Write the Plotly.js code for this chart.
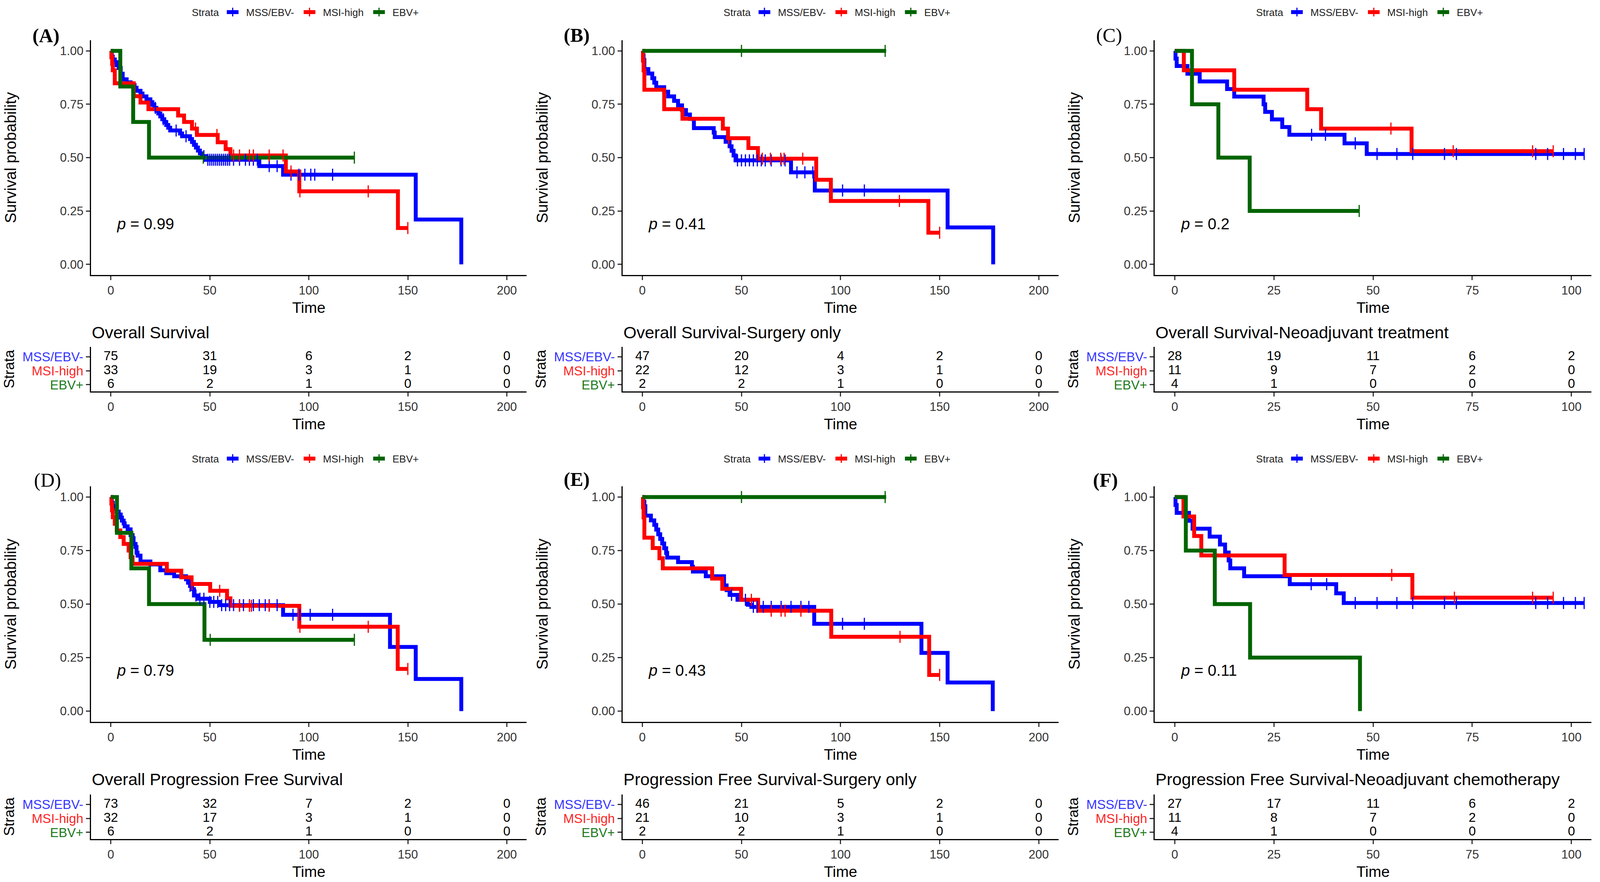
<!DOCTYPE html>
<html><head><meta charset="utf-8">
<script src="https://cdn.plot.ly/plotly-3.0.1.min.js"></script>
<style>html,body{margin:0;padding:0;background:#fff;overflow:hidden;} #chart{width:100vw;height:100vh;}</style>
</head><body><div id="chart"></div>
<script>
// ---------- DATA ----------
const strataNames = ['MSS/EBV-', 'MSI-high', 'EBV+'];
const pValues = ['0.99', '0.41', '0.2', '0.79', '0.43', '0.11'];
const panelLabels = ['(A)', '(B)', '(C)', '(D)', '(E)', '(F)'];
const tableTitles = ['Overall Survival', 'Overall Survival-Surgery only', 'Overall Survival-Neoadjuvant treatment',
  'Overall Progression Free Survival', 'Progression Free Survival-Surgery only', 'Progression Free Survival-Neoadjuvant chemotherapy'];
const timeBreaksLong = [0, 50, 100, 150, 200];
const timeBreaksShort = [0, 25, 50, 75, 100];

// (A) Overall survival
const A_mss_t = [0, 0.5, 1, 2, 3, 4, 5, 6, 8, 10, 12, 13, 15, 16, 18, 20, 21, 22, 23, 24, 25, 26, 27, 28, 29, 30, 35, 36, 40, 41, 42, 43, 44, 45, 46, 48, 75, 87, 154, 177];
const A_mss_s = [1, 0.973, 0.96, 0.947, 0.933, 0.92, 0.893, 0.867, 0.853, 0.84, 0.827, 0.813, 0.80, 0.787, 0.773, 0.76, 0.747, 0.733, 0.72, 0.707, 0.693, 0.68, 0.667, 0.653, 0.64, 0.627, 0.613, 0.60, 0.587, 0.573, 0.56, 0.547, 0.533, 0.52, 0.507, 0.49, 0.46, 0.42, 0.21, 0];
const A_mss_end = 177;
const A_mss_c = [22.5, 26.5, 33, 38, 47, 49, 50, 51, 52, 53, 54, 55, 56, 57, 58, 59, 60, 62, 65, 68, 70, 72, 74, 80, 84, 91, 95, 98, 101, 103, 112];
const A_msi_t = [0, 0.3, 0.7, 1, 2, 11.6, 15, 19, 34, 37, 41, 43.5, 54, 58, 60.4, 88.4, 95.2, 145];
const A_msi_s = [1, 0.97, 0.939, 0.909, 0.848, 0.788, 0.758, 0.727, 0.697, 0.667, 0.636, 0.606, 0.572, 0.54, 0.51, 0.435, 0.342, 0.17];
const A_msi_end = 150;
const A_msi_c = [42.8, 53.6, 62, 65, 70, 72, 80, 87, 91, 95.5, 130, 150];
const A_ebv_t = [0, 4.8, 11.3, 19.3];
const A_ebv_s = [1, 0.833, 0.667, 0.5];
const A_ebv_end = 123;
const A_ebv_c = [46.7, 123];
const A_risk_mss = [75, 31, 6, 2, 0];
const A_risk_msi = [33, 19, 3, 1, 0];
const A_risk_ebv = [6, 2, 1, 0, 0];

// (B) Overall survival - surgery only
const B_mss_t = [0, 0.3, 0.6, 1, 3, 5, 6, 7, 11, 13, 16, 18, 20, 22, 24, 26, 36, 36.5, 42, 44, 45, 46, 47, 75, 87, 154, 177];
const B_mss_s = [1, 0.979, 0.957, 0.915, 0.894, 0.872, 0.851, 0.83, 0.809, 0.787, 0.766, 0.745, 0.723, 0.702, 0.681, 0.638, 0.617, 0.596, 0.574, 0.553, 0.532, 0.51, 0.487, 0.431, 0.346, 0.173, 0];
const B_mss_end = 177;
const B_mss_c = [48, 50, 52, 54, 56, 58, 60, 62, 65, 70, 72, 78, 82, 86, 101, 112];
const B_msi_t = [0, 0.3, 0.6, 1, 11, 20.2, 40.6, 43.2, 53.5, 58.3, 87.7, 95.1, 144.3];
const B_msi_s = [1, 0.955, 0.909, 0.818, 0.727, 0.682, 0.636, 0.591, 0.545, 0.495, 0.396, 0.297, 0.148];
const B_msi_end = 150;
const B_msi_c = [43.5, 60.5, 64.6, 69.8, 71.5, 80.9, 129.7, 150];
const B_ebv_t = [0];
const B_ebv_s = [1];
const B_ebv_end = 123;
const B_ebv_c = [50, 122.5];
const B_risk_mss = [47, 20, 4, 2, 0];
const B_risk_msi = [22, 12, 3, 1, 0];
const B_risk_ebv = [2, 2, 1, 0, 0];

// (C) Overall survival - neoadjuvant treatment
const C_mss_t = [0, 0.2, 0.5, 3.2, 6.3, 13.2, 15, 22.4, 22.8, 24.5, 27.1, 28.9, 42.8, 48.4];
const C_mss_s = [1, 0.964, 0.929, 0.893, 0.857, 0.821, 0.786, 0.75, 0.714, 0.679, 0.643, 0.607, 0.567, 0.517];
const C_mss_end = 103.2;
const C_mss_c = [34.5, 38, 45.5, 51, 56, 60, 68, 71, 91, 94, 98, 101, 103.2];
const C_msi_t = [0, 2.3, 15, 33.4, 36.9, 59.7];
const C_msi_s = [1, 0.909, 0.818, 0.727, 0.636, 0.53];
const C_msi_end = 95.4;
const C_msi_c = [54.5, 70.2, 90.2, 95.4];
const C_ebv_t = [0, 4.35, 11, 18.9];
const C_ebv_s = [1, 0.75, 0.5, 0.25];
const C_ebv_end = 46.5;
const C_ebv_c = [46.5];
const C_risk_mss = [28, 19, 11, 6, 2];
const C_risk_msi = [11, 9, 7, 2, 0];
const C_risk_ebv = [4, 1, 0, 0, 0];

// (D) Overall progression free survival
const D_mss_t = [0, 0.5, 1, 2, 3, 4, 5, 5.6, 6.5, 7, 8.5, 10, 11, 11.5, 12.5, 13, 13.5, 15, 20, 25, 28, 32, 38, 39, 40, 41, 42, 44, 50, 55, 87, 141, 154, 177];
const D_mss_s = [1, 0.973, 0.959, 0.945, 0.932, 0.918, 0.904, 0.89, 0.877, 0.863, 0.849, 0.822, 0.808, 0.781, 0.767, 0.74, 0.726, 0.699, 0.685, 0.658, 0.644, 0.63, 0.616, 0.60, 0.585, 0.57, 0.54, 0.525, 0.51, 0.495, 0.45, 0.30, 0.15, 0];
const D_mss_end = 177;
const D_mss_c = [40, 43, 45, 47, 50, 52, 54, 56, 58, 60, 62, 65, 67, 70, 72, 75, 78, 80, 84, 92, 95.5, 100.7, 112];
const D_msi_t = [0, 0.3, 0.6, 1, 2, 3, 4.8, 6.5, 9, 10, 11, 28.3, 35.6, 40.8, 50.2, 58.7, 60.4, 95.2, 144.9];
const D_msi_s = [1, 0.969, 0.938, 0.906, 0.875, 0.844, 0.813, 0.781, 0.75, 0.719, 0.688, 0.656, 0.625, 0.594, 0.562, 0.527, 0.492, 0.394, 0.197];
const D_msi_end = 150;
const D_msi_c = [41, 55, 65, 70, 71, 80, 95.5, 130, 150];
const D_ebv_t = [0, 3.1, 10.4, 19.3, 47.3];
const D_ebv_s = [1, 0.833, 0.667, 0.5, 0.333];
const D_ebv_end = 123;
const D_ebv_c = [50.2, 123];
const D_risk_mss = [73, 32, 7, 2, 0];
const D_risk_msi = [32, 17, 3, 1, 0];
const D_risk_ebv = [6, 2, 1, 0, 0];

// (E) Progression free survival - surgery only
const E_mss_t = [0, 0.5, 1, 1.5, 4.3, 6, 7, 8, 9, 10, 11, 12, 12.5, 18, 25, 25.5, 32, 41.2, 42.5, 44, 48, 53.2, 55, 86.7, 140.8, 154, 176.8];
const E_mss_s = [1, 0.978, 0.957, 0.913, 0.891, 0.87, 0.848, 0.826, 0.804, 0.783, 0.761, 0.739, 0.717, 0.696, 0.674, 0.652, 0.63, 0.587, 0.565, 0.543, 0.52, 0.497, 0.487, 0.408, 0.272, 0.134, 0];
const E_mss_end = 176.8;
const E_mss_c = [45, 52, 56, 58, 61, 65, 70, 75, 80, 84, 101, 112];
const E_msi_t = [0, 0.3, 0.6, 1, 5.2, 8.6, 10.3, 35.2, 40.3, 49.8, 58.4, 95.3, 144.7];
const E_msi_s = [1, 0.952, 0.905, 0.81, 0.762, 0.714, 0.667, 0.619, 0.571, 0.52, 0.469, 0.347, 0.169];
const E_msi_end = 150;
const E_msi_c = [55, 65, 70, 72, 80, 130, 150];
const E_ebv_t = [0];
const E_ebv_s = [1];
const E_ebv_end = 123;
const E_ebv_c = [50, 122.5];
const E_risk_mss = [46, 21, 5, 2, 0];
const E_risk_msi = [21, 10, 3, 1, 0];
const E_risk_ebv = [2, 2, 1, 0, 0];

// (F) Progression free survival - neoadjuvant chemotherapy
const F_mss_t = [0, 0.2, 0.5, 3.6, 4.5, 8.8, 11.4, 12.7, 13.6, 14, 17.5, 29, 40.7, 42.6];
const F_mss_s = [1, 0.963, 0.926, 0.889, 0.852, 0.815, 0.778, 0.741, 0.704, 0.667, 0.63, 0.593, 0.55, 0.505];
const F_mss_end = 103.2;
const F_mss_c = [34.4, 38.3, 45.5, 51, 56, 60, 68, 71, 91, 94, 98, 101, 103.2];
const F_msi_t = [0, 2.2, 4.9, 6.7, 27.7, 59.9];
const F_msi_s = [1, 0.909, 0.818, 0.727, 0.636, 0.53];
const F_msi_end = 95.4;
const F_msi_c = [54.7, 70.5, 90.2, 95.4];
const F_ebv_t = [0, 2.8, 10.1, 19, 46.7];
const F_ebv_s = [1, 0.75, 0.5, 0.25, 0];
const F_ebv_end = 46.7;
const F_ebv_c = [];
const F_risk_mss = [27, 17, 11, 6, 2];
const F_risk_msi = [11, 8, 7, 2, 0];
const F_risk_ebv = [4, 1, 0, 0, 0];

// ---------- STYLE / LAYOUT ----------
const REF_W = 4220, REF_H = 2258;           // reference frame used for the positions below
const W = window.innerWidth || REF_W, H = window.innerHeight || REF_H;
const curveColors = ['#0000FF', '#FF0000', '#006400'];
const labelColors = ['#3535FF', '#FF2525', '#1C7A1C'];
const FONT = 'Liberation Sans, Arial, sans-serif';
const SERIF = 'Liberation Serif, Times New Roman, serif';
const NB = '\u00a0';
const colPx = [[240, 1389], [1642, 2792], [3046, 4197]];
const plotRowPx = [[103, 704], [1245, 1848]];
const tableRowPx = [[888, 1002], [2034, 2148]];
const tableTitleY = [851, 1995];
const legendY = [31, 1174];
const labelPos = [[121, 91], [1521, 90], [2925, 90], [125, 1229], [1521, 1227], [2916, 1229]];
const labelBold = [true, true, false, false, true, true];

const panels = [
  {curves: [[A_mss_t, A_mss_s, A_mss_end, A_mss_c], [A_msi_t, A_msi_s, A_msi_end, A_msi_c], [A_ebv_t, A_ebv_s, A_ebv_end, A_ebv_c]], risk: [A_risk_mss, A_risk_msi, A_risk_ebv], breaks: timeBreaksLong},
  {curves: [[B_mss_t, B_mss_s, B_mss_end, B_mss_c], [B_msi_t, B_msi_s, B_msi_end, B_msi_c], [B_ebv_t, B_ebv_s, B_ebv_end, B_ebv_c]], risk: [B_risk_mss, B_risk_msi, B_risk_ebv], breaks: timeBreaksLong},
  {curves: [[C_mss_t, C_mss_s, C_mss_end, C_mss_c], [C_msi_t, C_msi_s, C_msi_end, C_msi_c], [C_ebv_t, C_ebv_s, C_ebv_end, C_ebv_c]], risk: [C_risk_mss, C_risk_msi, C_risk_ebv], breaks: timeBreaksShort},
  {curves: [[D_mss_t, D_mss_s, D_mss_end, D_mss_c], [D_msi_t, D_msi_s, D_msi_end, D_msi_c], [D_ebv_t, D_ebv_s, D_ebv_end, D_ebv_c]], risk: [D_risk_mss, D_risk_msi, D_risk_ebv], breaks: timeBreaksLong},
  {curves: [[E_mss_t, E_mss_s, E_mss_end, E_mss_c], [E_msi_t, E_msi_s, E_msi_end, E_msi_c], [E_ebv_t, E_ebv_s, E_ebv_end, E_ebv_c]], risk: [E_risk_mss, E_risk_msi, E_risk_ebv], breaks: timeBreaksLong},
  {curves: [[F_mss_t, F_mss_s, F_mss_end, F_mss_c], [F_msi_t, F_msi_s, F_msi_end, F_msi_c], [F_ebv_t, F_ebv_s, F_ebv_end, F_ebv_c]], risk: [F_risk_mss, F_risk_msi, F_risk_ebv], breaks: timeBreaksShort}
];

function stepXY(t, s, end) {
  const x = t.slice(), y = s.slice();
  if (end > t[t.length - 1]) { x.push(end); y.push(s[s.length - 1]); }
  return {x, y};
}
function survAt(t, s, c) {
  let v = s[0];
  for (let i = 0; i < t.length; i++) { if (t[i] <= c) v = s[i]; }
  return v;
}
const fy = (top, bot) => [1 - bot / REF_H, 1 - top / REF_H];

const traces = [];
const layout = {
  width: W, height: H,
  margin: {l: 0, r: 0, t: 0, b: 0},
  paper_bgcolor: '#fff', plot_bgcolor: '#fff',
  font: {family: FONT, color: '#000', size: 30},
  showlegend: true,
  annotations: []
};

panels.forEach((p, k) => {
  const col = k % 3, row = Math.floor(k / 3);
  const ip = 2 * k + 1, it = 2 * k + 2;
  const xs = n => (n === 1 ? '' : String(n));
  const xmax = p.breaks[p.breaks.length - 1];
  const xr = [-0.05 * xmax, 1.05 * xmax];
  const xdom = [colPx[col][0] / REF_W, colPx[col][1] / REF_W];
  const legName = k === 0 ? 'legend' : 'legend' + (k + 1);

  const axisCommon = {
    showline: true, linecolor: '#000', linewidth: 3, mirror: false,
    ticks: 'outside', ticklen: 10, tickwidth: 3, tickcolor: '#333',
    showgrid: false, zeroline: false, fixedrange: true, automargin: false,
    tickfont: {family: FONT, size: 31, color: '#333'}
  };

  layout['xaxis' + xs(ip)] = Object.assign({}, axisCommon, {
    domain: xdom, range: xr, tickvals: p.breaks, anchor: 'y' + xs(ip),
    title: {text: 'Time', font: {family: FONT, size: 39, color: '#000'}, standoff: 14}
  });
  layout['yaxis' + xs(ip)] = Object.assign({}, axisCommon, {
    domain: fy(plotRowPx[row][0], plotRowPx[row][1]), range: [-0.05, 1.05],
    tickvals: [0, 0.25, 0.5, 0.75, 1], tickformat: '.2f', anchor: 'x' + xs(ip),
    title: {text: 'Survival probability', font: {family: FONT, size: 40, color: '#000'}, standoff: 100}
  });
  layout['xaxis' + xs(it)] = Object.assign({}, axisCommon, {
    domain: xdom, range: xr, tickvals: p.breaks, anchor: 'y' + xs(it),
    title: {text: 'Time', font: {family: FONT, size: 39, color: '#000'}, standoff: 14}
  });
  layout['yaxis' + xs(it)] = Object.assign({}, axisCommon, {
    domain: fy(tableRowPx[row][0], tableRowPx[row][1]), range: [0.52, 3.73],
    tickvals: [3, 2, 1], anchor: 'x' + xs(it),
    ticktext: strataNames.map((n, i) => '<span style="color:' + labelColors[i] + '">' + n + '</span>'),
    tickfont: {family: FONT, size: 33, color: '#333'},
    title: {text: 'Strata', font: {family: FONT, size: 37, color: '#000'}, standoff: 10}
  });

  // curves
  p.curves.forEach((c, i) => {
    const st = stepXY(c[0], c[1], c[2]);
    traces.push({
      type: 'scatter', mode: 'lines', x: st.x, y: st.y,
      xaxis: 'x' + xs(ip), yaxis: 'y' + xs(ip),
      line: {shape: 'hv', color: curveColors[i], width: 10},
      showlegend: false, hoverinfo: 'skip', cliponaxis: false
    });
  });
  // censor marks
  p.curves.forEach((c, i) => {
    traces.push({
      type: 'scatter', mode: 'markers', x: c[3], y: c[3].map(v => survAt(c[0], c[1], v)),
      xaxis: 'x' + xs(ip), yaxis: 'y' + xs(ip),
      marker: {symbol: 'line-ns', size: 22, color: curveColors[i], line: {color: curveColors[i], width: 3}},
      showlegend: false, hoverinfo: 'skip', cliponaxis: false
    });
  });
  // legend entries
  strataNames.forEach((n, i) => {
    traces.push({
      type: 'scatter', mode: 'lines+markers', x: [null], y: [null], name: NB + NB + n + NB + NB,
      xaxis: 'x' + xs(ip), yaxis: 'y' + xs(ip), legend: legName,
      line: {color: curveColors[i], width: 10},
      marker: {symbol: 'line-ns', size: 16, color: curveColors[i], line: {color: curveColors[i], width: 3}},
      showlegend: true, hoverinfo: 'skip'
    });
  });
  layout[legName] = {
    orientation: 'h', x: (xdom[0] + xdom[1]) / 2, xanchor: 'center',
    y: 1 - legendY[row] / REF_H, yanchor: 'middle',
    title: {text: 'Strata' + NB, side: 'left', font: {family: FONT, size: 26, color: '#222'}},
    font: {family: FONT, size: 26, color: '#222'},
    bgcolor: 'rgba(0,0,0,0)', itemwidth: 30, traceorder: 'normal', itemclick: false, itemdoubleclick: false
  };
  // risk table numbers
  p.risk.forEach((r, i) => {
    traces.push({
      type: 'scatter', mode: 'text', x: p.breaks, y: p.breaks.map(() => 3 - i),
      text: r.map(String), textposition: 'middle center',
      textfont: {family: FONT, size: 33, color: '#000'},
      xaxis: 'x' + xs(it), yaxis: 'y' + xs(it),
      showlegend: false, hoverinfo: 'skip', cliponaxis: false
    });
  });

  // annotations: p-value, panel label, table title
  layout.annotations.push({
    xref: 'x' + xs(ip), yref: 'y' + xs(ip), x: 0.0135 * xmax, y: 0.19,
    xanchor: 'left', yanchor: 'middle', showarrow: false,
    text: '<i>p</i> = ' + pValues[k], font: {family: FONT, size: 40, color: '#000'}
  });
  layout.annotations.push({
    xref: 'paper', yref: 'paper', x: labelPos[k][0] / REF_W, y: 1 - labelPos[k][1] / REF_H,
    xanchor: 'center', yanchor: 'middle', showarrow: false,
    text: labelBold[k] ? '<b>' + panelLabels[k] + '</b>' : panelLabels[k],
    font: {family: SERIF, size: 50, color: '#000'}
  });
  layout.annotations.push({
    xref: 'paper', yref: 'paper', x: colPx[col][0] / REF_W, y: 1 - tableTitleY[row] / REF_H,
    xanchor: 'left', yanchor: 'middle', showarrow: false,
    text: tableTitles[k], font: {family: FONT, size: 43, color: '#000'}
  });
});

Plotly.newPlot('chart', traces, layout, {staticPlot: true, displayModeBar: false});
</script></body></html>
